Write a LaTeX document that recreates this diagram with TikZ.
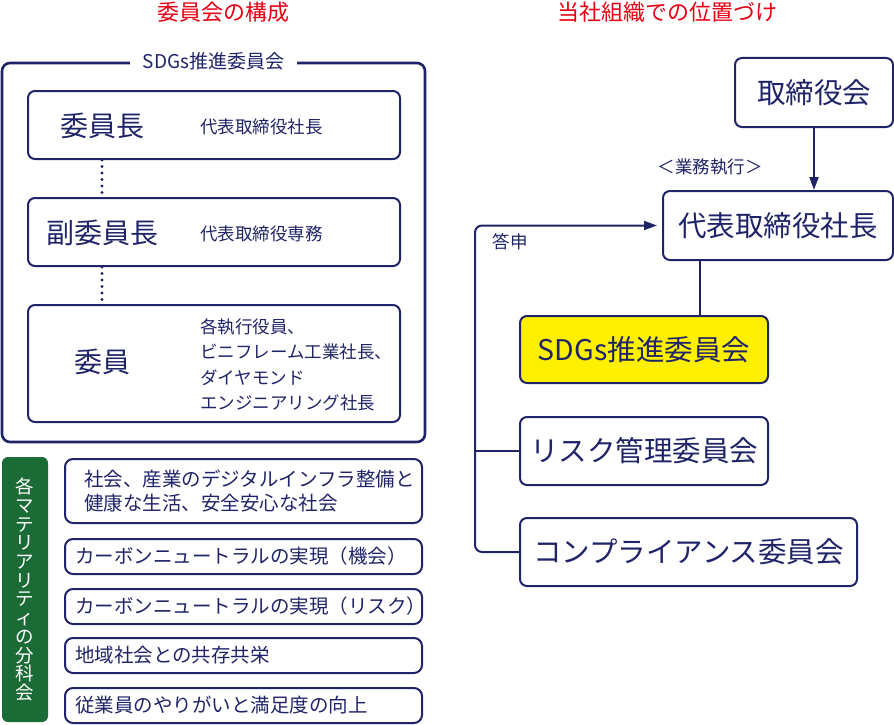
\documentclass[tikz,border=0pt]{standalone}
\usepackage{fontspec}
\setmainfont{Noto Sans CJK JP}
\usetikzlibrary{arrows.meta, positioning, calc}

\definecolor{navy}{HTML}{1F2468}
\definecolor{titlered}{HTML}{E60012}
\definecolor{bunkagreen}{HTML}{1B6B36}
\definecolor{sdgsyellow}{HTML}{FFF000}

\tikzset{
  frame/.style={draw=navy, line width=2.6pt, rounded corners=8pt, inner sep=0pt},
  rolebox/.style={draw=navy, line width=2pt, rounded corners=7pt, minimum width=372pt, minimum height=68pt, inner sep=0pt},
  rolename/.style={text=navy, font=\fontsize{28}{30}\selectfont},
  roletext/.style={text=navy, anchor=west, align=left, inner sep=0pt, font=\fontsize{17.5}{25.4}\selectfont},
  topicbox/.style={draw=navy, line width=2pt, rounded corners=8pt, text=navy, align=left, inner ysep=0pt, minimum height=35pt, font=\fontsize{19.5}{24}\selectfont},
  orgbox/.style={draw=navy, line width=2pt, rounded corners=7pt, inner sep=0pt, minimum height=68pt, text=navy, font=\fontsize{28.5}{30}\selectfont},
  heading/.style={text=titlered, font=\fontsize{22}{24}\selectfont},
  small/.style={text=navy, font=\fontsize{17.5}{20}\selectfont},
  flow/.style={draw=navy, line width=2pt},
  dots/.style={draw=navy, line width=3.2pt, line cap=round, dash pattern=on 0pt off 6.5pt}
}

\begin{document}
\begin{tikzpicture}[x=1pt, y=-1pt]
\useasboundingbox (0,0) rectangle (894,725);

% headings
\node[heading] (headleft) at (223,12) {委員会の構成};
\node[heading] (headright) at (667,12) {当社組織での位置づけ};

% committee members
\node[frame, minimum width=423pt, minimum height=379pt] (sdgsframe) at (213.5,252.5) {};
\node[fill=white, text=navy, inner xsep=13pt, inner ysep=2pt, font=\fontsize{19}{20}\selectfont] (framelabel) at (sdgsframe.north) {SDGs推進委員会};

\node[rolebox] (chairbox) at (214,125) {};
\node[rolename] (chair) at (102,126) {委員長};
\node[roletext] (chairwho) at (200,127) {代表取締役社長};

\node[rolebox] (vicebox) at (214,232) {};
\node[rolename] (vice) at (102,233) {副委員長};
\node[roletext] (vicewho) at (200,234) {代表取締役専務};

\node[rolebox, minimum height=117pt] (memberbox) at (214,363.5) {};
\node[rolename] (member) at (102,362) {委員};
\node[roletext] (memberwho) at (200,365) {各執行役員、\\ビニフレーム工業社長、\\ダイヤモンド\\エンジニアリング社長};

\draw[dots] (chair |- chairbox.south) -- (chair |- vicebox.north);
\draw[dots] (chair |- vicebox.south) -- (chair |- memberbox.north);

% subcommittees
\node[fill=bunkagreen, rounded corners=6pt, minimum width=46pt, minimum height=265pt, inner sep=0pt, text=white, align=center, font=\fontsize{18.5}{18.7}\selectfont] (bunka) at (25,589.5)
  {各\\マ\\テ\\リ\\ア\\リ\\テ\\ィ\\の\\分\\科\\会};

\node[topicbox, text width=319pt, inner xsep=19pt, minimum height=64pt, font=\fontsize{19.5}{24}\selectfont] (topicA) at (243.5,491) {社会、産業のデジタルインフラ整備と\\健康な生活、安全安心な社会};
\node[topicbox, text width=337pt, inner xsep=10pt] (topicB) at (243.5,556.5) {カーボンニュートラルの実現（機会）};
\node[topicbox, text width=337pt, inner xsep=10pt] (topicC) at (243.5,606.5) {カーボンニュートラルの実現（リスク）};
\node[topicbox, text width=337pt, inner xsep=10pt] (topicD) at (243.5,655.5) {地域社会との共存共栄};
\node[topicbox, text width=337pt, inner xsep=10pt] (topicE) at (243.5,705.5) {従業員のやりがいと満足度の向上};

% organisation
\node[orgbox, minimum width=158pt, minimum height=69pt] (board) at (814,92.5) {取締役会};
\node[orgbox, minimum width=230pt, minimum height=69pt] (president) at (778,225.5) {代表取締役社長};
\node[orgbox, fill=sdgsyellow, minimum width=248pt, minimum height=67pt] (sdgs) at (644,349.5) {SDGs推進委員会};
\node[orgbox, minimum width=248pt] (risk) at (644,451) {リスク管理委員会};
\node[orgbox, minimum width=337pt] (comp) at (688.5,552) {コンプライアンス委員会};

\node[small] (gyomu) at (710,167) {＜業務執行＞};
\node[small] (toshin) at (510,242) {答申};

\coordinate (rail) at (475,0);
\coordinate (trunk) at (700,0);

\draw[flow, -{Triangle[length=13pt, width=9pt]}] (board.south) -- (board.south |- president.north);
\draw[flow] (trunk |- president.south) -- (trunk |- sdgs.north);
\draw[flow, rounded corners=7pt, -{Triangle[length=13pt, width=9pt]}, shorten >=5pt]
  (comp.west) -- (comp.west -| rail) -- (president.west -| rail) -- (president.west);
\draw[flow] (risk.west) -- (risk.west -| rail);
\end{tikzpicture}
\end{document}
